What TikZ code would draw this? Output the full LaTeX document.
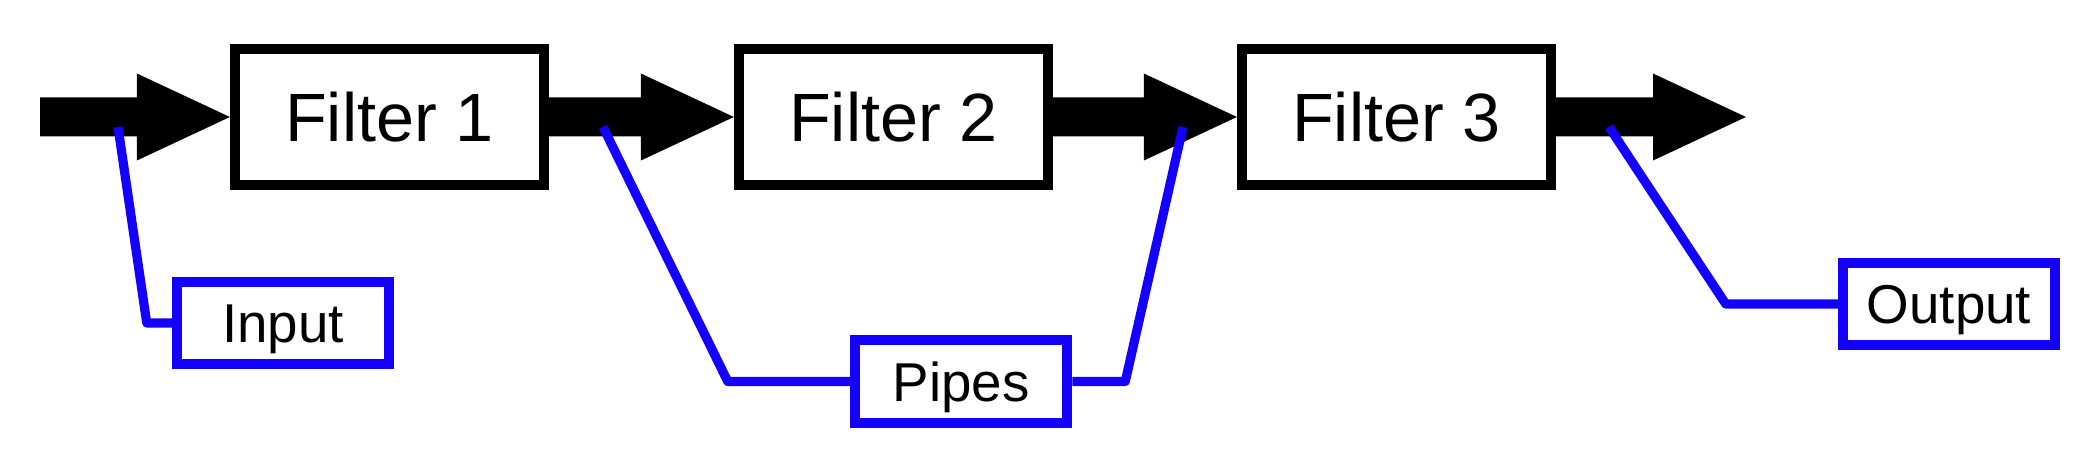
\documentclass[tikz,border=0pt]{standalone}
\usepackage{fontspec}
\setmainfont{Liberation Sans}
\usetikzlibrary{calc}
\definecolor{lblue}{RGB}{20,0,255}
\tikzset{
  filterbox/.style={draw=black, fill=white, line width=3.8pt, minimum width=111.1pt, minimum height=49.1pt, inner sep=0pt,
    font=\fontsize{24.6pt}{29pt}\selectfont, text height=17.6pt, text depth=0pt},
  labelbox/.style={draw=lblue, fill=white, line width=3.6pt, minimum width=76.5pt, minimum height=29.7pt, inner sep=0pt,
    font=\fontsize{19.7pt}{24pt}\selectfont, text height=14.1pt, text depth=0pt},
  link/.style={draw=lblue, line width=3.3pt, line join=round},
  fatfill/.style={fill=black, line join=round},
}
\newcommand{\fatarrow}[2]{%
  \fill[fatfill] ($(#1)+(0,-19.5)$) -- ($(#2)+(-93,-19.5)$) -- ($(#2)+(-93,-43.5)$) -- (#2)
    -- ($(#2)+(-93,43.5)$) -- ($(#2)+(-93,19.5)$) -- ($(#1)+(0,19.5)$) -- cycle;}
\begin{document}
\begin{tikzpicture}[x=0.36pt,y=-0.36pt]
\useasboundingbox (0,0) rectangle (2082,452);
% filters
\node[filterbox] (f1) at (389.5,117) {Filter 1};
\node[filterbox] (f2) at (893.5,117) {Filter 2};
\node[filterbox] (f3) at (1396.5,117) {Filter 3};
\coordinate (src) at (40,117);
\coordinate (snk) at (1746,117);
% big arrows
\fatarrow{src}{f1.west}
\fatarrow{f1.east}{f2.west}
\fatarrow{f2.east}{f3.west}
\fatarrow{f3.east}{snk}
% labels
\node[labelbox] (inp) at (283,323) {Input};
\node[labelbox] (pipes) at (961,381.5) {Pipes};
\node[labelbox] (outp) at (1949,304) {Output};
\coordinate (inA) at (118,127);
\coordinate (pA) at (603,127);
\coordinate (pB) at (1183,127);
\coordinate (oA) at (1609,127);
\draw[link] (inp.west) -- ++(-25,0) -- (inA);
\draw[link] (pipes.west) -- ++(-122,0) -- (pA);
\draw[link] (pipes.east) -- ++(53,0) -- (pB);
\draw[link] (outp.west) -- ++(-112,0) -- (oA);
\end{tikzpicture}
\end{document}
